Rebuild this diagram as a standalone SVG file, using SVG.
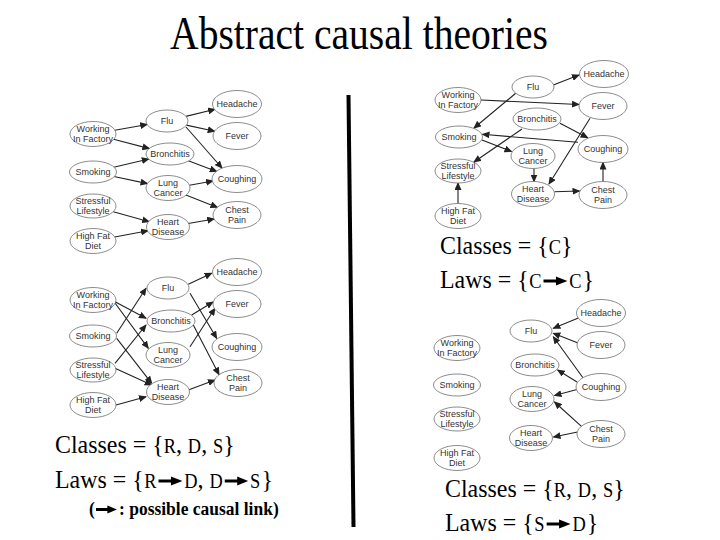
<svg xmlns="http://www.w3.org/2000/svg" width="720" height="540" viewBox="0 0 720 540">
<style>
.n ellipse{fill:#fff;stroke:#6e6e6e;stroke-width:0.8}
.n text{font-family:"Liberation Sans",Arial,sans-serif;font-size:9px;fill:#333;text-anchor:middle}
.e line{stroke:#222;stroke-width:1.1;fill:none;marker-end:url(#ah)}
.big{font-family:"Liberation Serif","Times New Roman",serif;font-size:26px;fill:#000}
.sc{font-size:20px}
.cap{font-family:"Liberation Serif","Times New Roman",serif;font-size:19px;font-weight:bold;fill:#000}
.title{font-family:"Liberation Serif","Times New Roman",serif;font-size:46px;fill:#000}
.ta{stroke:#000;stroke-width:3;fill:none}
.th{fill:#000}
</style>
<defs>
<marker id="ah" viewBox="0 0 8 7" refX="7" refY="3.5" markerWidth="8" markerHeight="7" markerUnits="userSpaceOnUse" orient="auto"><path d="M0,0 L8,3.5 L0,7 z" fill="#222"/></marker>
</defs>
<rect width="720" height="540" fill="#fff"/>

<g transform="translate(359,49) scale(0.86,1)"><text class="title" x="0" y="0" text-anchor="middle">Abstract causal theories</text></g>

<line x1="348.5" y1="95" x2="353.5" y2="527" stroke="#000" stroke-width="4"/>

<g id="connectors">
<g id="conn-tl" class="e">
<line x1="114.8" y1="130.2" x2="147.2" y2="124.5"/>
<line x1="113.6" y1="139.3" x2="149.4" y2="148.6"/>
<line x1="113.7" y1="167.2" x2="148.8" y2="159"/>
<line x1="114" y1="176.5" x2="147.5" y2="183.6"/>
<line x1="113.3" y1="211.7" x2="149.2" y2="221.7"/>
<line x1="114.7" y1="237" x2="148" y2="230.7"/>
<line x1="185.9" y1="116.4" x2="215.1" y2="109.3"/>
<line x1="186.3" y1="125.1" x2="214.7" y2="131.2"/>
<line x1="186" y1="127" x2="222" y2="168"/>
<line x1="188.3" y1="160.8" x2="216.7" y2="171.4"/>
<line x1="189.4" y1="185.2" x2="213" y2="181"/>
<line x1="185.9" y1="195" x2="217.5" y2="207.4"/>
<line x1="188.1" y1="223.5" x2="214.2" y2="219"/>
</g>
<g id="conn-bl" class="e">
<line x1="115" y1="301.7" x2="146" y2="318.3"/>
<line x1="115" y1="303" x2="148.3" y2="348.3"/>
<line x1="116.7" y1="333.3" x2="146" y2="288.3"/>
<line x1="116.7" y1="338.3" x2="151.7" y2="383.3"/>
<line x1="115" y1="363.3" x2="146" y2="325"/>
<line x1="115" y1="368.3" x2="151.7" y2="385"/>
<line x1="116" y1="405" x2="146" y2="396.7"/>
<line x1="188.3" y1="284.3" x2="211.7" y2="273.3"/>
<line x1="190" y1="293.3" x2="216.7" y2="338.3"/>
<line x1="191.7" y1="315" x2="213" y2="302"/>
<line x1="193.3" y1="325" x2="219" y2="374.5"/>
<line x1="190" y1="346.7" x2="215" y2="308.3"/>
<line x1="188.3" y1="390" x2="215" y2="380"/>
</g>
<g id="conn-tr" class="e">
<line x1="553.3" y1="85" x2="579" y2="75"/>
<line x1="516" y1="93" x2="474" y2="128"/>
<line x1="481" y1="100" x2="579" y2="104.5"/>
<line x1="522" y1="129" x2="474" y2="162"/>
<line x1="560" y1="123.3" x2="587.7" y2="137.7"/>
<line x1="578" y1="142.3" x2="482.5" y2="134.3"/>
<line x1="482" y1="140" x2="511.5" y2="151.5"/>
<line x1="534" y1="168.5" x2="534" y2="181.5"/>
<line x1="590" y1="118.3" x2="549" y2="184"/>
<line x1="554.5" y1="191.7" x2="579.5" y2="191"/>
<line x1="603" y1="181.5" x2="603" y2="162.5"/>
<line x1="458" y1="203.5" x2="458" y2="183"/>
</g>
<g id="conn-br" class="e">
<line x1="579" y1="317.7" x2="553.3" y2="328.3"/>
<line x1="578" y1="343" x2="553.3" y2="333.3"/>
<line x1="583.3" y1="378.3" x2="553.3" y2="336.7"/>
<line x1="577" y1="382" x2="557.7" y2="370"/>
<line x1="577" y1="389.5" x2="554.5" y2="395.5"/>
<line x1="581.7" y1="426.7" x2="554.5" y2="402"/>
<line x1="577.5" y1="432" x2="553.5" y2="437"/>
</g>
</g>

<!-- top-left -->
<g id="tl-working" class="n"><ellipse cx="93" cy="134" rx="23" ry="12.5"/><text><tspan x="93" y="131.5">Working</tspan><tspan x="93" y="141.5">In Factory</tspan></text></g>
<g id="tl-smoking" class="n"><ellipse cx="93" cy="172" rx="23.5" ry="11"/><text x="93" y="175">Smoking</text></g>
<g id="tl-stressful" class="n"><ellipse cx="93" cy="206" rx="23" ry="12"/><text><tspan x="93" y="203.5">Stressful</tspan><tspan x="93" y="213.5">Lifestyle</tspan></text></g>
<g id="tl-highfat" class="n"><ellipse cx="93" cy="241" rx="23" ry="12.5"/><text><tspan x="93" y="238.5">High Fat</tspan><tspan x="93" y="248.5">Diet</tspan></text></g>
<g id="tl-flu" class="n"><ellipse cx="167" cy="121" rx="21" ry="11"/><text x="167" y="124">Flu</text></g>
<g id="tl-bronchitis" class="n"><ellipse cx="170" cy="154" rx="24" ry="11"/><text x="170" y="157">Bronchitis</text></g>
<g id="tl-lung" class="n"><ellipse cx="168" cy="188" rx="22" ry="12.5"/><text><tspan x="168" y="185.5">Lung</tspan><tspan x="168" y="195.5">Cancer</tspan></text></g>
<g id="tl-heart" class="n"><ellipse cx="168" cy="227" rx="21.5" ry="12.5"/><text><tspan x="168" y="224.5">Heart</tspan><tspan x="168" y="234.5">Disease</tspan></text></g>
<g id="tl-headache" class="n"><ellipse cx="237" cy="104" rx="24.5" ry="13.5"/><text x="237" y="107">Headache</text></g>
<g id="tl-fever" class="n"><ellipse cx="237" cy="136" rx="24" ry="13.5"/><text x="237" y="139">Fever</text></g>
<g id="tl-coughing" class="n"><ellipse cx="237" cy="179" rx="25" ry="13.5"/><text x="237" y="182">Coughing</text></g>
<g id="tl-chest" class="n"><ellipse cx="237" cy="215" rx="24" ry="13.5"/><text><tspan x="237" y="212.5">Chest</tspan><tspan x="237" y="222.5">Pain</tspan></text></g>

<!-- bottom-left -->
<g id="bl-working" class="n"><ellipse cx="93" cy="300" rx="23" ry="12.5"/><text><tspan x="93" y="297.5">Working</tspan><tspan x="93" y="307.5">In Factory</tspan></text></g>
<g id="bl-smoking" class="n"><ellipse cx="93" cy="336" rx="23.5" ry="11"/><text x="93" y="339">Smoking</text></g>
<g id="bl-stressful" class="n"><ellipse cx="93" cy="370" rx="23" ry="12"/><text><tspan x="93" y="367.5">Stressful</tspan><tspan x="93" y="377.5">Lifestyle</tspan></text></g>
<g id="bl-highfat" class="n"><ellipse cx="93" cy="405" rx="23" ry="12.5"/><text><tspan x="93" y="402.5">High Fat</tspan><tspan x="93" y="412.5">Diet</tspan></text></g>
<g id="bl-flu" class="n"><ellipse cx="168" cy="288" rx="21" ry="11"/><text x="168" y="291">Flu</text></g>
<g id="bl-bronchitis" class="n"><ellipse cx="171" cy="321" rx="24" ry="11"/><text x="171" y="324">Bronchitis</text></g>
<g id="bl-lung" class="n"><ellipse cx="168" cy="355" rx="22" ry="12.5"/><text><tspan x="168" y="352.5">Lung</tspan><tspan x="168" y="362.5">Cancer</tspan></text></g>
<g id="bl-heart" class="n"><ellipse cx="168" cy="392" rx="21.5" ry="12.5"/><text><tspan x="168" y="389.5">Heart</tspan><tspan x="168" y="399.5">Disease</tspan></text></g>
<g id="bl-headache" class="n"><ellipse cx="237" cy="272" rx="24.5" ry="13.5"/><text x="237" y="275">Headache</text></g>
<g id="bl-fever" class="n"><ellipse cx="237" cy="304" rx="24" ry="13.5"/><text x="237" y="307">Fever</text></g>
<g id="bl-coughing" class="n"><ellipse cx="237" cy="347" rx="25" ry="13.5"/><text x="237" y="350">Coughing</text></g>
<g id="bl-chest" class="n"><ellipse cx="238" cy="383" rx="24" ry="13.5"/><text><tspan x="238" y="380.5">Chest</tspan><tspan x="238" y="390.5">Pain</tspan></text></g>

<!-- top-right -->
<g id="tr-flu" class="n"><ellipse cx="533" cy="87" rx="21" ry="11"/><text x="533" y="90">Flu</text></g>
<g id="tr-headache" class="n"><ellipse cx="604" cy="74" rx="24.5" ry="13.5"/><text x="604" y="77">Headache</text></g>
<g id="tr-working" class="n"><ellipse cx="458" cy="100" rx="23" ry="12.5"/><text><tspan x="458" y="97.5">Working</tspan><tspan x="458" y="107.5">In Factory</tspan></text></g>
<g id="tr-fever" class="n"><ellipse cx="603" cy="106" rx="24" ry="13.5"/><text x="603" y="109">Fever</text></g>
<g id="tr-bronchitis" class="n"><ellipse cx="537" cy="119" rx="24" ry="11"/><text x="537" y="122">Bronchitis</text></g>
<g id="tr-smoking" class="n"><ellipse cx="459" cy="137" rx="23.5" ry="11"/><text x="459" y="140">Smoking</text></g>
<g id="tr-lung" class="n"><ellipse cx="533" cy="156" rx="22" ry="12.5"/><text><tspan x="533" y="153.5">Lung</tspan><tspan x="533" y="163.5">Cancer</tspan></text></g>
<g id="tr-coughing" class="n"><ellipse cx="603" cy="149" rx="25" ry="13.5"/><text x="603" y="152">Coughing</text></g>
<g id="tr-stressful" class="n"><ellipse cx="458" cy="171" rx="23" ry="12"/><text><tspan x="458" y="168.5">Stressful</tspan><tspan x="458" y="178.5">Lifestyle</tspan></text></g>
<g id="tr-heart" class="n"><ellipse cx="533" cy="194" rx="21.5" ry="12.5"/><text><tspan x="533" y="191.5">Heart</tspan><tspan x="533" y="201.5">Disease</tspan></text></g>
<g id="tr-chest" class="n"><ellipse cx="603" cy="195" rx="24" ry="13.5"/><text><tspan x="603" y="192.5">Chest</tspan><tspan x="603" y="202.5">Pain</tspan></text></g>
<g id="tr-highfat" class="n"><ellipse cx="458" cy="216" rx="23" ry="12.5"/><text><tspan x="458" y="213.5">High Fat</tspan><tspan x="458" y="223.5">Diet</tspan></text></g>

<!-- bottom-right -->
<g id="br-headache" class="n"><ellipse cx="601" cy="313" rx="24.5" ry="13.5"/><text x="601" y="316">Headache</text></g>
<g id="br-flu" class="n"><ellipse cx="531" cy="331" rx="21" ry="11"/><text x="531" y="334">Flu</text></g>
<g id="br-fever" class="n"><ellipse cx="601" cy="345" rx="24" ry="13.5"/><text x="601" y="348">Fever</text></g>
<g id="br-working" class="n"><ellipse cx="457" cy="348" rx="23" ry="12.5"/><text><tspan x="457" y="345.5">Working</tspan><tspan x="457" y="355.5">In Factory</tspan></text></g>
<g id="br-bronchitis" class="n"><ellipse cx="535" cy="365" rx="24" ry="11"/><text x="535" y="368">Bronchitis</text></g>
<g id="br-smoking" class="n"><ellipse cx="457" cy="385" rx="23.5" ry="11"/><text x="457" y="388">Smoking</text></g>
<g id="br-coughing" class="n"><ellipse cx="601" cy="387" rx="25" ry="13.5"/><text x="601" y="390">Coughing</text></g>
<g id="br-lung" class="n"><ellipse cx="532" cy="399" rx="22" ry="12.5"/><text><tspan x="532" y="396.5">Lung</tspan><tspan x="532" y="406.5">Cancer</tspan></text></g>
<g id="br-stressful" class="n"><ellipse cx="457" cy="419" rx="23" ry="12"/><text><tspan x="457" y="416.5">Stressful</tspan><tspan x="457" y="426.5">Lifestyle</tspan></text></g>
<g id="br-chest" class="n"><ellipse cx="601" cy="434" rx="24" ry="13.5"/><text><tspan x="601" y="431.5">Chest</tspan><tspan x="601" y="441.5">Pain</tspan></text></g>
<g id="br-heart" class="n"><ellipse cx="531" cy="438" rx="21.5" ry="12.5"/><text><tspan x="531" y="435.5">Heart</tspan><tspan x="531" y="445.5">Disease</tspan></text></g>
<g id="br-highfat" class="n"><ellipse cx="457" cy="458" rx="23" ry="12.5"/><text><tspan x="457" y="455.5">High Fat</tspan><tspan x="457" y="465.5">Diet</tspan></text></g>

<!-- text blocks -->
<g id="bl-classes" transform="translate(55,453) scale(0.92,1)"><text class="big" x="0" y="0">Classes = {<tspan class="sc">R</tspan>, <tspan class="sc">D</tspan>, <tspan class="sc">S</tspan>}</text></g>
<g id="bl-laws" transform="translate(55,488) scale(0.92,1)">
<text class="big" x="0" y="0">Laws = {</text>
<text class="big sc" x="97" y="0">R</text>
<path class="ta" d="M112.5,-7 H127"/><polygon class="th" points="126,-11.5 138.5,-7 126,-2.5"/>
<text class="big" x="140.5" y="0"><tspan class="sc">D</tspan>, <tspan class="sc">D</tspan></text>
<path class="ta" d="M184.5,-7 H199"/><polygon class="th" points="198,-11.5 210,-7 198,-2.5"/>
<text class="big sc" x="212" y="0">S</text>
<text class="big" x="224.5" y="0">}</text>
</g>
<g id="bl-caption" transform="translate(89,515) scale(0.92,1)">
<text class="cap" x="0" y="0">(</text>
<path class="ta" d="M7.6,-5.5 H21" stroke-width="2.6"/><polygon class="th" points="20,-9.5 30.4,-5.5 20,-1.5"/>
<text class="cap" x="32.6" y="0">: possible causal link)</text>
</g>
<g id="tr-classes" transform="translate(440,254) scale(0.92,1)"><text class="big" x="0" y="0">Classes = {<tspan class="sc">C</tspan>}</text></g>
<g id="tr-laws" transform="translate(440,288) scale(0.92,1)">
<text class="big" x="0" y="0">Laws = {</text>
<text class="big sc" x="97" y="0">C</text>
<path class="ta" d="M112.5,-7 H127"/><polygon class="th" points="126,-11.5 138.5,-7 126,-2.5"/>
<text class="big sc" x="140.5" y="0">C</text>
<text class="big" x="155" y="0">}</text>
</g>
<g id="br-classes" transform="translate(445,497) scale(0.92,1)"><text class="big" x="0" y="0">Classes = {<tspan class="sc">R</tspan>, <tspan class="sc">D</tspan>, <tspan class="sc">S</tspan>}</text></g>
<g id="br-laws" transform="translate(445,531) scale(0.92,1)">
<text class="big" x="0" y="0">Laws = {</text>
<text class="big sc" x="97" y="0">S</text>
<path class="ta" d="M110.5,-7 H125"/><polygon class="th" points="124,-11.5 136.5,-7 124,-2.5"/>
<text class="big sc" x="138.5" y="0">D</text>
<text class="big" x="154" y="0">}</text>
</g>
</svg>
